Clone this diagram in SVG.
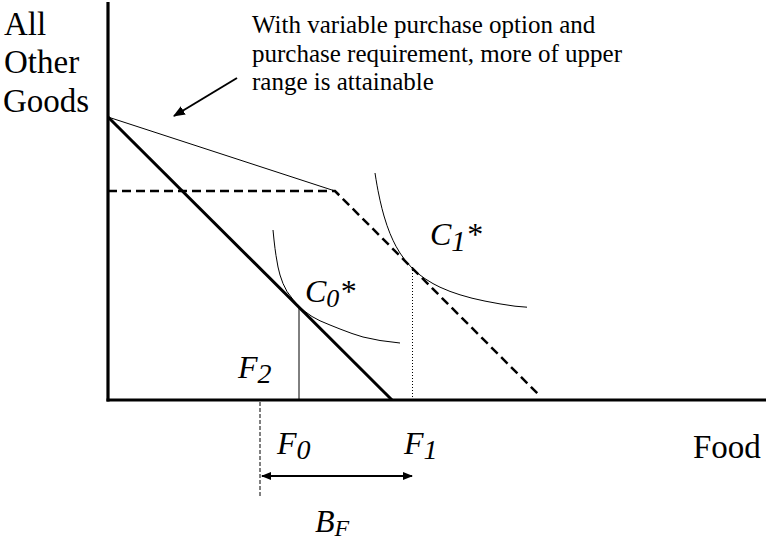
<svg xmlns="http://www.w3.org/2000/svg" width="766" height="540" viewBox="0 0 766 540">
<style>
  .lbl { font-size: 33px; }
  .note { font-size: 25px; }
  .it { font-size: 32px; font-style: italic; }
  .axis { stroke: #000; stroke-width: 3.2; fill: none; }
  .budget { stroke: #000; stroke-width: 3; fill: none; }
  .thin { stroke: #000; stroke-width: 1; fill: none; }
  .dash { stroke: #000; stroke-width: 2.5; fill: none; stroke-dasharray: 9 5; }
  .dot { stroke: #000; stroke-width: 1; fill: none; stroke-dasharray: 1 2; }
  .vdash { stroke: #000; stroke-width: 1; fill: none; stroke-dasharray: 4 2; }
  .arr { stroke: #000; stroke-width: 2; fill: none; }
</style>
<defs>
  <marker id="ah" viewBox="0 0 10 10" refX="9" refY="5" markerWidth="6" markerHeight="6" orient="auto" markerUnits="strokeWidth">
    <path d="M0,1 L10,5 L0,9 Z" fill="#000"/>
  </marker>
  <marker id="ah2" viewBox="0 0 10 10" refX="9" refY="5" markerWidth="5" markerHeight="5" orient="auto-start-reverse" markerUnits="strokeWidth">
    <path d="M0,1 L10,5 L0,9 Z" fill="#000"/>
  </marker>
</defs>

<g id="axes">
  <line class="axis" x1="108" y1="2" x2="108" y2="401.5"/>
  <line class="axis" x1="106.5" y1="400" x2="766" y2="400"/>
</g>

<g font-family="'Liberation Serif', 'Times New Roman', Tinos, 'DejaVu Serif', serif" fill="#000">
<g id="axis-labels">
  <text class="lbl" x="4" y="35">All</text>
  <text class="lbl" x="4" y="73">Other</text>
  <text class="lbl" x="3" y="112">Goods</text>
  <text class="lbl" x="693" y="458">Food</text>
</g>

<g id="connectors">
  <line id="budget-original" class="budget" x1="108" y1="117" x2="392" y2="400"/>
  <line id="budget-variable" class="thin" x1="108" y1="117" x2="335" y2="191"/>
  <polyline id="budget-requirement" class="dash" points="108,191 335,191 540,396"/>
  <line id="drop-F0" class="thin" x1="299" y1="307" x2="299" y2="400"/>
  <line id="drop-F1" class="dot" x1="412.5" y1="267" x2="412.5" y2="399"/>
  <line id="drop-F2" class="vdash" x1="260" y1="402" x2="260" y2="497"/>
  <line id="arrow-BF" class="arr" x1="262" y1="476" x2="412" y2="476" marker-start="url(#ah2)" marker-end="url(#ah2)"/>
  <line id="arrow-note" class="arr" x1="237" y1="78" x2="174" y2="116" marker-end="url(#ah)"/>
</g>

<g id="curve-C0">
  <path class="thin" d="M273,230 L274,240 L275,248.5 L276,255.5 L278,267 L280,275 L283,283.5 L287,291.5 L293,299.5 L299,306.5 L305,311.5 L312,316.5 L320,320.8 L330,325 L340,329 L352,333.5 L363,337 L380,340.5 L400,343"/>
  <text class="it" x="305" y="302" font-size="30">C<tspan dy="5" font-size="26">0</tspan><tspan dy="-5">*</tspan></text>
</g>

<g id="curve-C1">
  <path class="thin" d="M375,173 L376,179.3 L377,185.2 L378,190.6 L380,200.2 L382,208.6 L384,216 L387,225.5 L390,233.5 L393,240.3 L396,246.3 L400,253 L405,260.1 L412,268 L418,273.5 L425,278.7 L433,283.6 L440,287.2 L450,291.4 L460,294.8 L472,298.2 L485,301.1 L500,303.9 L515,306.2 L527,307.2"/>
  <text class="it" x="430" y="245">C<tspan dy="6" font-size="29">1</tspan><tspan dy="-6">*</tspan></text>
</g>

<g id="label-F2">
  <text class="it" x="238" y="378" font-size="33">F<tspan dy="5" font-size="28">2</tspan></text>
</g>
<g id="label-F0">
  <text class="it" x="277" y="454" font-size="33">F<tspan dy="5" font-size="28">0</tspan></text>
</g>
<g id="label-F1">
  <text class="it" x="404" y="454" font-size="33">F<tspan dy="5" font-size="28">1</tspan></text>
</g>
<g id="label-BF">
  <text class="it" x="315" y="532">B<tspan dy="4" font-size="24">F</tspan></text>
</g>

<g id="note">
  <text class="note" x="252" y="33">With variable purchase option and</text>
  <text class="note" x="252" y="62">purchase requirement, more of upper</text>
  <text class="note" x="252" y="90">range is attainable</text>
</g>
</g>
</svg>
